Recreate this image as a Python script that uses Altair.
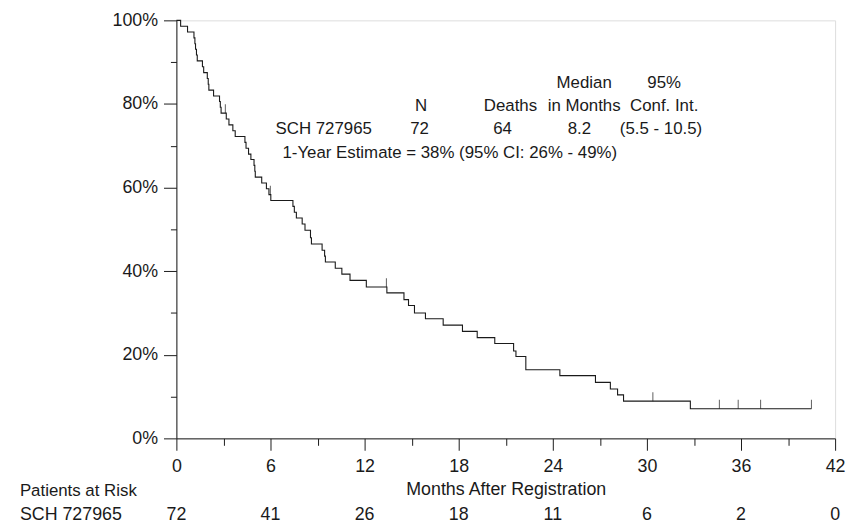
import altair as alt
import pandas as pd

# Kaplan-Meier step curve (months, survival %)
times = [0, 0.27, 0.71, 1.12, 1.18, 1.22, 1.28, 1.33, 1.66, 1.74, 1.97, 2.03, 2.07,
         2.37, 2.75, 2.80, 2.85, 3.18, 3.35, 3.6, 3.75, 4.37, 4.44, 4.6, 4.75, 4.95,
         5.0, 5.03, 5.44, 5.74, 5.9, 6.02, 7.43, 7.52, 7.65, 8.02, 8.2, 8.55, 8.61,
         9.29, 9.45, 9.5, 10.13, 10.55, 11.07, 12.11, 13.42, 14.51, 14.8, 15.18, 15.88,
         17.01, 18.24, 19.18, 20.3, 21.5, 21.65, 22.28, 24.45, 26.72, 27.67, 28.13,
         28.51, 32.77, 40.49]
surv = [100, 98.6, 97.2, 95.8, 94.4, 93.1, 91.7, 90.3, 88.9, 87.5, 86.1, 84.7, 83.3,
        81.9, 80.6, 79.2, 77.8, 76.4, 75.0, 73.6, 72.2, 70.8, 69.4, 68.0, 66.7, 65.3,
        63.9, 62.5, 61.1, 59.7, 58.3, 56.9, 55.5, 54.1, 52.7, 51.3, 49.8, 48.0, 46.5,
        45.0, 43.6, 42.2, 40.7, 39.3, 37.8, 36.2, 34.8, 33.2, 31.8, 30.0, 28.6,
        27.1, 25.6, 24.1, 22.7, 20.9, 19.6, 16.4, 15.0, 13.4, 11.8, 10.4,
        8.9, 7.1, 7.1]

# censored observations
cens_t = [3.12, 5.99, 13.39, 30.38, 34.62, 35.82, 37.25, 40.49]
cens_s = [77.8, 58.3, 36.2, 8.9, 7.1, 7.1, 7.1, 7.1]

# patients at risk
risk_t = [0, 6, 12, 18, 24, 30, 36, 42]
risk_n = [72, 41, 26, 18, 11, 6, 2, 0]

# summary table text
ann_center_txt = ["Median", "95%", "N", "Deaths", "in Months", "Conf. Int.",
                  "72", "64", "8.2", "(5.5 - 10.5)"]
ann_center_t = [26.0, 31.1, 15.6, 21.3, 26.0, 31.1, 15.5, 20.8, 25.7, 30.9]
ann_center_s = [85.1, 85.1, 79.6, 79.6, 79.6, 79.6, 73.9, 73.9, 73.9, 73.9]
ann_left_txt = ["SCH 727965", "1-Year Estimate = 38% (95% CI: 26% - 49%)"]
ann_left_t = [6.32, 6.76]
ann_left_s = [73.9, 68.2]

km = pd.DataFrame({"t": times, "s": surv})
cz = pd.DataFrame({"t": cens_t, "s": cens_s})
rk = pd.DataFrame({"t": risk_t, "n": [str(v) for v in risk_n]})
ac = pd.DataFrame({"txt": ann_center_txt, "t": ann_center_t, "s": ann_center_s})
al = pd.DataFrame({"txt": ann_left_txt, "t": ann_left_t, "s": ann_left_s})
side1 = pd.DataFrame({"txt": ["Patients at Risk"]})
side2 = pd.DataFrame({"txt": ["SCH 727965"]})

AX_FONT = "Liberation Sans"
TX_FONT = "Liberation Sans"
INK = "#1a1a1a"
AXFS = 18

xs = alt.Scale(domain=[0, 42], nice=False, zero=False)
ys = alt.Scale(domain=[0, 100], nice=False)

xaxis = alt.Axis(
    values=list(range(0, 43, 3)),
    format="d",
    labelExpr="datum.value % 6 === 0 ? datum.label : ''",
    tickSize={"condition": {"test": "datum.value % 6 === 0", "value": 12}, "value": 7},
    title="Months After Registration",
    titleFont=AX_FONT, titleFontSize=AXFS, titleFontWeight="normal", titleColor=INK,
    titlePadding=6,
    labelFont=AX_FONT, labelFontSize=AXFS, labelColor=INK, labelPadding=7,
    domainColor=INK, tickColor=INK, grid=False, labelFlush=False,
)
yaxis = alt.Axis(
    values=list(range(0, 101, 10)),
    labelExpr="datum.value % 20 === 0 ? datum.value + '%' : ''",
    tickSize={"condition": {"test": "datum.value % 20 === 0", "value": 13}, "value": 6},
    title=None,
    labelFont=AX_FONT, labelFontSize=AXFS, labelColor=INK, labelPadding=6,
    domainColor=INK, tickColor=INK, grid=False,
)

curve = alt.Chart(km).mark_line(interpolate="step-after", color=INK, strokeWidth=1.1).encode(
    x=alt.X("t:Q", scale=xs, axis=xaxis),
    y=alt.Y("s:Q", scale=ys, axis=yaxis),
)

censor = alt.Chart(cz).mark_tick(orient="vertical", color=INK, size=9, thickness=1, yOffset=-4.5).encode(
    x=alt.X("t:Q", scale=xs),
    y=alt.Y("s:Q", scale=ys),
)

txt_c = alt.Chart(ac).mark_text(font=TX_FONT, fontSize=17, color=INK, align="center", baseline="middle").encode(
    x=alt.X("t:Q", scale=xs), y=alt.Y("s:Q", scale=ys), text="txt:N")
txt_l = alt.Chart(al).mark_text(font=TX_FONT, fontSize=17, color=INK, align="left", baseline="middle").encode(
    x=alt.X("t:Q", scale=xs), y=alt.Y("s:Q", scale=ys), text="txt:N")

risk = alt.Chart(rk).mark_text(font=AX_FONT, fontSize=AXFS, color=INK, align="center", baseline="middle").encode(
    x=alt.X("t:Q", scale=xs), y=alt.value(499), text="n:N")

side_a = alt.Chart(side1).mark_text(font=AX_FONT, fontSize=AXFS - 1, color=INK, align="left", baseline="middle").encode(
    x=alt.value(-158), y=alt.value(475), text="txt:N")
side_b = alt.Chart(side2).mark_text(font=AX_FONT, fontSize=AXFS, color=INK, align="left", baseline="middle").encode(
    x=alt.value(-158), y=alt.value(499), text="txt:N")

chart = alt.layer(curve, censor, txt_c, txt_l, risk, side_a, side_b).properties(
    width=665, height=422,
    padding={"left": 170, "top": 10, "right": 12, "bottom": 86},
    autosize=alt.AutoSizeParams(type="none"),
).configure_view(stroke=None).configure(background="white")

chart.save("out.html", embed_options={"renderer": "svg", "actions": False})
